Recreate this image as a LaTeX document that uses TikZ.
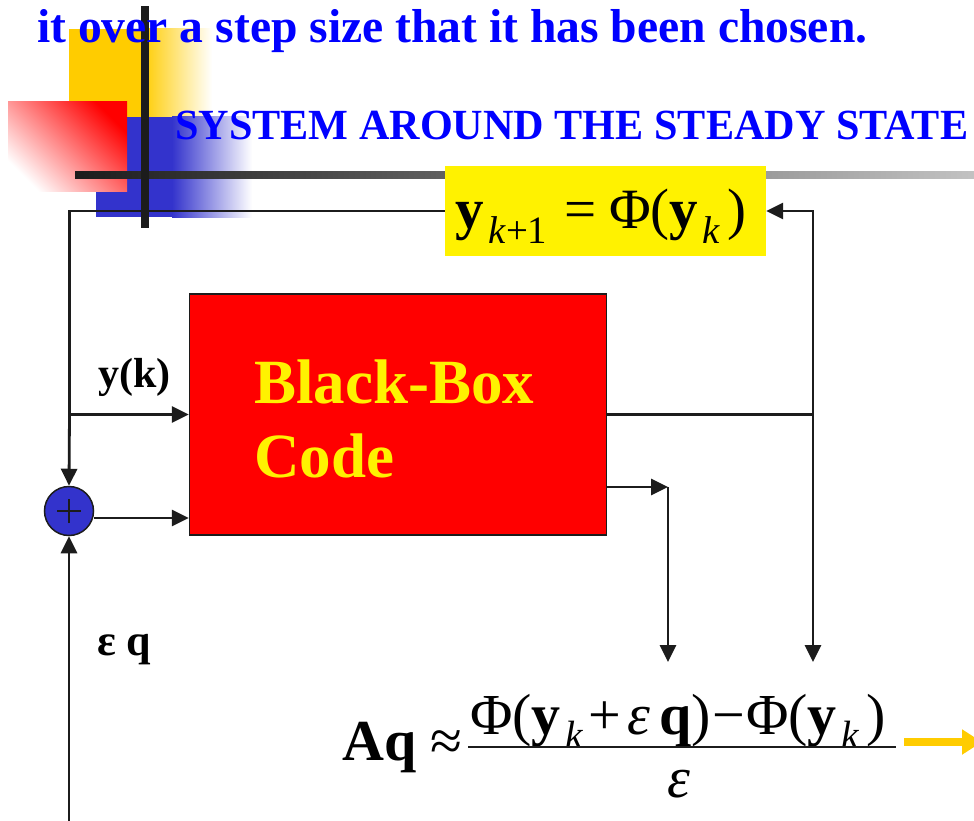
\documentclass[tikz,border=0pt]{standalone}
\usepackage{fontspec}
\setmainfont{Liberation Serif}
\usepackage{graphicx}
\usetikzlibrary{arrows.meta}
\newcommand{\mysub}[1]{\hspace{0.08em}\raisebox{-0.25em}{\scalebox{0.68}{#1}}}
\newcommand{\myfs}[1]{\fontsize{#1}{#1}\selectfont}
\definecolor{tblue}{RGB}{0,0,255}
\definecolor{dyellow}{RGB}{255,204,0}
\definecolor{dblue}{RGB}{51,51,204}
\definecolor{barc}{RGB}{28,28,28}
\begin{document}
\begin{tikzpicture}[x=1pt,y=-1pt,
  conn/.style={line width=2.8pt, draw=barc},
  arr/.style={conn, -{Triangle[length=17pt,width=16pt]}},
  txt/.style={inner sep=0pt, anchor=base west},
]
\clip (0,0) rectangle (974,821);
\fill[white] (0,0) rectangle (974,821);
% decorations
\fill[dyellow] (69,29) rectangle (142,117);
\shade[left color=dyellow,right color=white] (142,29) rectangle (212,117);
\fill[dblue] (96,117) rectangle (172,217);
\shade[left color=dblue,right color=white] (172,117) rectangle (252,217);
\shade[top color=red, bottom color=white, shading angle=-45] (8,102) rectangle (127,192);
\shade[left color=barc, right color=black!24] (75,172) rectangle (974,179);
\fill[barc] (141,6) rectangle (149,228);
\node[txt, text=tblue, font=\myfs{47.6}\bfseries] (title) at (37,43) {it over a step size that it has been chosen.};
\node[txt, text=tblue, font=\myfs{43}\bfseries] (sys) at (175,140) {\scalebox{0.981}[1]{SYSTEM AROUND THE STEADY STATE}};
% blocks
\node[draw=barc, line width=1.5pt, fill=red, minimum width=417, minimum height=241, inner sep=0] (box) at (398,414.5) {};
\node[fill=yellow, minimum width=321, minimum height=90, inner sep=0] (eq) at (605.5,211) {};
\node[circle, draw=barc, line width=1.5pt, fill=dblue, minimum size=49, inner sep=0] (plus) at (69,511) {};
\draw[line width=2.8pt, barc] ([xshift=-12pt]plus.center) -- ([xshift=12pt]plus.center)
  ([yshift=-12pt]plus.center) -- ([yshift=12pt]plus.center);
% coordinates
\coordinate (jl) at (69.5,414.5);
\coordinate (jr) at (813,414.5);
\coordinate (j2) at (668,487);
\coordinate (f1) at (668,662);
\coordinate (f2) at (813,662);
\coordinate (bot) at (69,830);
\coordinate (pin) at ([yshift=-7pt]plus.east);
% connectors
\draw[arr] (eq.west) -| (jl) -- (box.west);
\draw[arr] (box.east) -- (jr) |- (eq.east);
\draw[arr] (jl) -- (plus.north);
\draw[arr] (jr) -- (f2);
\draw[arr] (box.east |- j2) -- (j2);
\draw[arr] (j2) -- (f1);
\draw[arr] (pin) -- (pin -| box.west);
\draw[arr] (bot) -- (plus.south);
% texts
\node[txt, text=yellow, font=\myfs{63}\bfseries] (bb1) at (254,403) {Black-Box};
\node[txt, text=yellow, font=\myfs{63}\bfseries] (bb2) at (254,477) {Code};
\node[txt, font=\myfs{42}\bfseries] (yk) at (98,387) {y(k)};
\node[txt, font=\myfs{44}\bfseries] (epsq) at (97,655) {ε q};
\node[txt, font=\myfs{57}] (eqt) at (455,229) {\textbf{y}\mysub{\textit{k}+1}\hspace{0.3em}=\hspace{0.22em}Φ(\textbf{y}\mysub{\textit{k}}\hspace{0.12em})};
\node[txt, font=\myfs{58}] (aq) at (342,760) {\textbf{Aq} ≈};
\node[txt, font=\myfs{58}] (num) at (470,734) {Φ(\textbf{y}\mysub{\textit{k}}\hspace{0.08em}+\hspace{0.12em}\textit{ε}\hspace{0.15em}\textbf{q})\hspace{0.02em}−\hspace{0.02em}Φ(\textbf{y}\mysub{\textit{k}}\hspace{0.12em})};
\coordinate (fl) at (468,747);
\coordinate (fr) at (896,747);
\draw[line width=2.8pt, barc] (fl) -- (fr);
\node[txt, font=\myfs{58}] (den) at (667,797) {\textit{ε}};
\coordinate (ya) at (904,742);
\coordinate (yb) at (982,742);
\draw[line width=8pt, dyellow, -{Triangle[length=20pt,width=24pt]}] (ya) -- (yb);
\end{tikzpicture}
\end{document}
